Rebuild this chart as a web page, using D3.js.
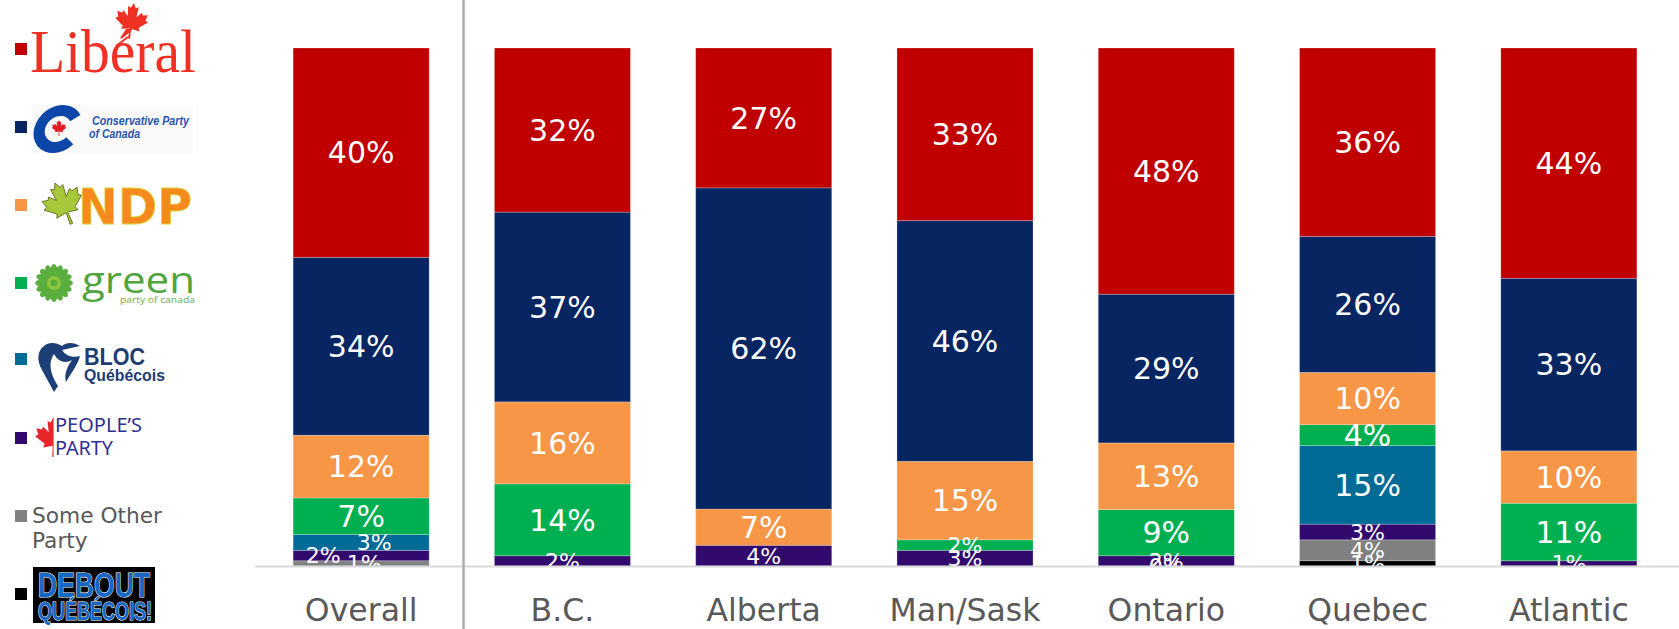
<!DOCTYPE html>
<html>
<head>
<meta charset="utf-8">
<script src="https://cdn.jsdelivr.net/npm/d3@7"></script>
<style>
  body { margin: 0; background: #fff; }
  svg { display: block; }
</style>
</head>
<body>
<svg id="chart" width="1679" height="629"></svg>
<script>
var regions = ['Overall', 'B.C.', 'Alberta', 'Man/Sask', 'Ontario', 'Quebec', 'Atlantic']

// vote share per party, null = not shown
var liberal = [40, 32, 27, 33, 48, 36, 44]
var conservative = [34, 37, 62, 46, 29, 26, 33]
var ndp = [12, 16, 7, 15, 13, 10, 10]
var green = [7, 14, null, 2, 9, 4, 11]
var bloc = [3, null, null, null, null, 15, null]
var ppc = [2, 2, 4, 3, 2, 3, 1]
var other = [1, null, null, null, 0, 4, null]
var debout = [null, null, null, null, null, 1, null]

var parties = [
  ['debout', debout, '#000000'],
  ['other', other, '#808080'],
  ['ppc', ppc, '#320a6e'],
  ['bloc', bloc, '#016b97'],
  ['green', green, '#00b050'],
  ['ndp', ndp, '#f79646'],
  ['conservative', conservative, '#072561'],
  ['liberal', liberal, '#c00000']
]

const plotTop = 48
const plotBottom = 566
const font = "'DejaVu Sans', Verdana, sans-serif"

var svg = d3.select('#chart')
var defs = svg.append('defs')

var table = regions.map((r, i) => {
  var row = { region: r }
  parties.forEach(p => { row[p[0]] = p[1][i] === null ? 0 : p[1][i] })
  return row
})

var stack = d3.stack()
  .keys(parties.map(p => p[0]))
  .offset(d3.stackOffsetExpand)
var layers = stack(table)

var x = d3.scaleBand()
  .domain(regions)
  .range([260.5, 1669.5])
  .paddingInner(0.324)
  .paddingOuter(0.162)

var y = d3.scaleLinear()
  .domain([0, 1])
  .range([plotBottom, plotTop])

var color = {}
parties.forEach(p => { color[p[0]] = p[2] })
var raw = {}
parties.forEach(p => { raw[p[0]] = p[1] })

defs.append('clipPath')
  .attr('id', 'plotclip')
  .append('rect')
  .attr('x', 0).attr('y', 0)
  .attr('width', 1679).attr('height', plotBottom)

var bars = svg.append('g').attr('id', 'bars')

layers.forEach(layer => {
  bars.append('g')
    .attr('fill', color[layer.key])
    .selectAll('rect')
    .data(layer)
    .join('rect')
    .attr('x', d => x(d.data.region))
    .attr('y', d => y(d[1]))
    .attr('width', x.bandwidth())
    .attr('height', d => y(d[0]) - y(d[1]))
    .attr('stroke', '#ffffff')
    .attr('stroke-opacity', 0.3)
    .attr('stroke-width', 0.8)
})

// hand placed offsets for the crowded labels of the Overall bar
var nudge = { 'Overall|ppc': -38, 'Overall|bloc': 13, 'Overall|other': 3 }
var smallKeys = ['ppc', 'other', 'debout']

var labels = svg.append('g').attr('id', 'labels').attr('clip-path', 'url(#plotclip)')

layers.forEach(layer => {
  layer.forEach((d, i) => {
    var v = raw[layer.key][i]
    if (v === null) return
    var h = y(d[0]) - y(d[1])
    var size = (h < 20 || smallKeys.includes(layer.key)) ? 22 : 30
    labels.append('text')
      .attr('x', x(d.data.region) + x.bandwidth() / 2 + (nudge[d.data.region + '|' + layer.key] || 0))
      .attr('y', (y(d[0]) + y(d[1])) / 2)
      .attr('dy', '0.36em')
      .attr('text-anchor', 'middle')
      .attr('fill', '#ffffff')
      .attr('font-family', font)
      .attr('font-size', size)
      .text(v + '%')
  })
})

svg.append('line')
  .attr('x1', 255).attr('x2', 1679)
  .attr('y1', plotBottom + 0.5).attr('y2', plotBottom + 0.5)
  .attr('stroke', '#d9d9d9')
  .attr('stroke-width', 2)

svg.append('line')
  .attr('x1', 463.5).attr('x2', 463.5)
  .attr('y1', 0).attr('y2', 629)
  .attr('stroke', '#adadad')
  .attr('stroke-width', 2.5)

var xAxis = svg.append('g')
  .attr('transform', 'translate(0,' + 621 + ')')
  .call(d3.axisBottom(x).tickSize(0).tickPadding(0))
xAxis.select('.domain').remove()
xAxis.selectAll('text')
  .attr('dy', 0)
  .attr('fill', '#595959')
  .attr('font-family', font)
  .attr('font-size', 31.5)

// legend with party marks
var leafPts = [[50, 0], [57, 14], [65, 10], [62, 38], [76, 24], [79, 31], [93, 28], [88, 44], [96, 48], [72, 67],
  [76, 76], [52, 72], [53, 100], [47, 100], [48, 72], [24, 76], [28, 67], [4, 48], [12, 44], [7, 28],
  [21, 31], [24, 24], [38, 38], [35, 10], [43, 14]]

var drawLeaf = function (g, cx, top, size, fill, rot) {
  var s = size / 100
  return g.append('path')
    .attr('d', 'M' + leafPts.map(p => [(p[0] - 50) * s, p[1] * s].join(',')).join('L') + 'Z')
    .attr('transform', 'translate(' + cx + ',' + top + ') rotate(' + (rot || 0) + ')')
    .attr('fill', fill)
}

var legend = svg.append('g').attr('id', 'legend')
var keyY = [49, 127, 205, 283, 359, 438, 516, 594]
var keyOrder = ['liberal', 'conservative', 'ndp', 'green', 'bloc', 'ppc', 'other', 'debout']

keyOrder.forEach((k, i) => {
  legend.append('rect')
    .attr('x', 15).attr('y', keyY[i] - 6)
    .attr('width', 12).attr('height', 12)
    .attr('fill', color[k])
})

// Liberal
drawLeaf(legend, 134, 3, 36, '#ee3124', 8)
legend.append('path')
  .attr('d', 'M128,37 L116,46')
  .attr('stroke', '#ee3124').attr('stroke-width', 2)
legend.append('text')
  .attr('x', 30).attr('y', 72)
  .attr('font-family', "'Liberation Serif', serif")
  .attr('font-size', 62)
  .attr('textLength', 166)
  .attr('lengthAdjust', 'spacingAndGlyphs')
  .attr('fill', '#ee3124')
  .text('Libéral')

// Conservative
legend.append('rect')
  .attr('x', 32).attr('y', 105).attr('width', 161).attr('height', 48)
  .attr('fill', '#fafafa')
legend.append('path')
  .attr('d', d3.arc().innerRadius(13).outerRadius(24).startAngle(Math.PI * 0.72).endAngle(Math.PI * 2.3)())
  .attr('transform', 'translate(58,129) skewX(-12)')
  .attr('fill', '#0b46a8')
drawLeaf(legend, 59, 120, 16, '#e31b23')
legend.append('text')
  .attr('x', 92).attr('y', 125)
  .attr('font-family', "'Liberation Sans', sans-serif")
  .attr('font-style', 'italic').attr('font-weight', 'bold')
  .attr('font-size', 13)
  .attr('textLength', 97).attr('lengthAdjust', 'spacingAndGlyphs')
  .attr('fill', '#2a55b0')
  .text('Conservative Party')
legend.append('text')
  .attr('x', 89).attr('y', 138)
  .attr('font-family', "'Liberation Sans', sans-serif")
  .attr('font-style', 'italic').attr('font-weight', 'bold')
  .attr('font-size', 13)
  .attr('textLength', 51).attr('lengthAdjust', 'spacingAndGlyphs')
  .attr('fill', '#2a55b0')
  .text('of Canada')

// NDP
drawLeaf(legend, 55, 183, 44, '#a8c83c', -22)
  .attr('stroke', '#5a6b1e').attr('stroke-width', 0.8)
legend.append('text')
  .attr('x', 78).attr('y', 224)
  .attr('font-family', "'DejaVu Sans', sans-serif")
  .attr('font-weight', 'bold')
  .attr('font-size', 50)
  .attr('textLength', 114).attr('lengthAdjust', 'spacingAndGlyphs')
  .attr('fill', '#f7891f')
  .attr('stroke', '#d8d23a').attr('stroke-width', 0.8)
  .text('NDP')

// Green
var flower = legend.append('g').attr('transform', 'translate(54,283)')
d3.range(16).forEach(i => {
  flower.append('ellipse')
    .attr('cx', 0).attr('cy', -12)
    .attr('rx', 3.5).attr('ry', 7)
    .attr('transform', 'rotate(' + (i * 360 / 16) + ')')
    .attr('fill', '#5aae3e')
})
flower.append('circle').attr('r', 7).attr('fill', '#8cc63f')
flower.append('circle').attr('r', 3.5).attr('fill', '#5aae3e')
legend.append('text')
  .attr('x', 82).attr('y', 293)
  .attr('font-family', "'Open Sans', sans-serif")
  .attr('font-size', 36)
  .attr('textLength', 113).attr('lengthAdjust', 'spacingAndGlyphs')
  .attr('fill', '#4fa43d')
  .text('green')
legend.append('text')
  .attr('x', 120).attr('y', 303)
  .attr('font-family', "'Open Sans', sans-serif")
  .attr('font-size', 9)
  .attr('textLength', 75).attr('lengthAdjust', 'spacingAndGlyphs')
  .attr('fill', '#6ab04c')
  .text('party of canada')

// Bloc
legend.append('path')
  .attr('d', 'M8,4 C2,8 0,18 6,28 L18,50 L22,44 C14,32 12,20 18,12 C22,20 30,22 36,18 C30,26 28,34 30,40 C36,30 42,22 44,14 C36,16 30,14 26,8 L44,4 C38,0 30,0 26,4 C20,0 12,0 8,4 Z')
  .attr('transform', 'translate(36,342)')
  .attr('fill', '#1d3f78')
legend.append('text')
  .attr('x', 84).attr('y', 365)
  .attr('font-family', "'Liberation Sans', sans-serif")
  .attr('font-weight', 'bold')
  .attr('font-size', 24)
  .attr('textLength', 61).attr('lengthAdjust', 'spacingAndGlyphs')
  .attr('fill', '#1e3c72')
  .text('BLOC')
legend.append('text')
  .attr('x', 84).attr('y', 381)
  .attr('font-family', "'Liberation Sans', sans-serif")
  .attr('font-weight', 'bold')
  .attr('font-size', 16.5)
  .attr('textLength', 81).attr('lengthAdjust', 'spacingAndGlyphs')
  .attr('fill', '#1e3c72')
  .text('Québécois')

// People's Party: left half of a leaf
defs.append('clipPath')
  .attr('id', 'halfleaf')
  .append('rect')
  .attr('x', 20).attr('y', 410).attr('width', 33.5).attr('height', 50)
var halfLeaf = legend.append('g').attr('clip-path', 'url(#halfleaf)')
drawLeaf(halfLeaf, 53.5, 417, 40, '#e8262b', 0)
legend.append('line')
  .attr('x1', 53.5).attr('x2', 53.5).attr('y1', 418).attr('y2', 456)
  .attr('stroke', '#f08080').attr('stroke-width', 1)
legend.append('text')
  .attr('x', 55).attr('y', 432)
  .attr('font-family', "'Noto Sans', sans-serif")
  .attr('font-size', 19.5)
  .attr('textLength', 87).attr('lengthAdjust', 'spacingAndGlyphs')
  .attr('fill', '#2e3192')
  .text('PEOPLE’S')
legend.append('text')
  .attr('x', 55).attr('y', 455)
  .attr('font-family', "'Noto Sans', sans-serif")
  .attr('font-size', 19.5)
  .attr('textLength', 58).attr('lengthAdjust', 'spacingAndGlyphs')
  .attr('fill', '#2e3192')
  .text('PARTY')

// Some Other Party
legend.append('text')
  .attr('x', 32).attr('y', 523)
  .attr('font-family', font)
  .attr('font-size', 21.7)
  .attr('fill', '#595959')
  .text('Some Other')
legend.append('text')
  .attr('x', 32).attr('y', 548)
  .attr('font-family', font)
  .attr('font-size', 21.7)
  .attr('fill', '#595959')
  .text('Party')

// Debout Québécois
legend.append('rect')
  .attr('x', 33).attr('y', 567).attr('width', 122).attr('height', 56)
  .attr('fill', '#000000')
legend.append('text')
  .attr('x', 38).attr('y', 597)
  .attr('font-family', "'Liberation Sans', sans-serif")
  .attr('font-weight', 'bold')
  .attr('font-size', 35)
  .attr('textLength', 112).attr('lengthAdjust', 'spacingAndGlyphs')
  .attr('fill', '#1668c4')
  .attr('stroke', '#ffffff').attr('stroke-width', 1.2)
  .attr('paint-order', 'stroke')
  .text('DEBOUT')
legend.append('text')
  .attr('x', 38).attr('y', 620)
  .attr('font-family', "'Liberation Sans', sans-serif")
  .attr('font-weight', 'bold')
  .attr('font-size', 26)
  .attr('textLength', 114).attr('lengthAdjust', 'spacingAndGlyphs')
  .attr('fill', '#1668c4')
  .attr('stroke', '#ffffff').attr('stroke-width', 1.2)
  .attr('paint-order', 'stroke')
  .text('QUÉBÉCOIS!')
</script>
</body>
</html>
